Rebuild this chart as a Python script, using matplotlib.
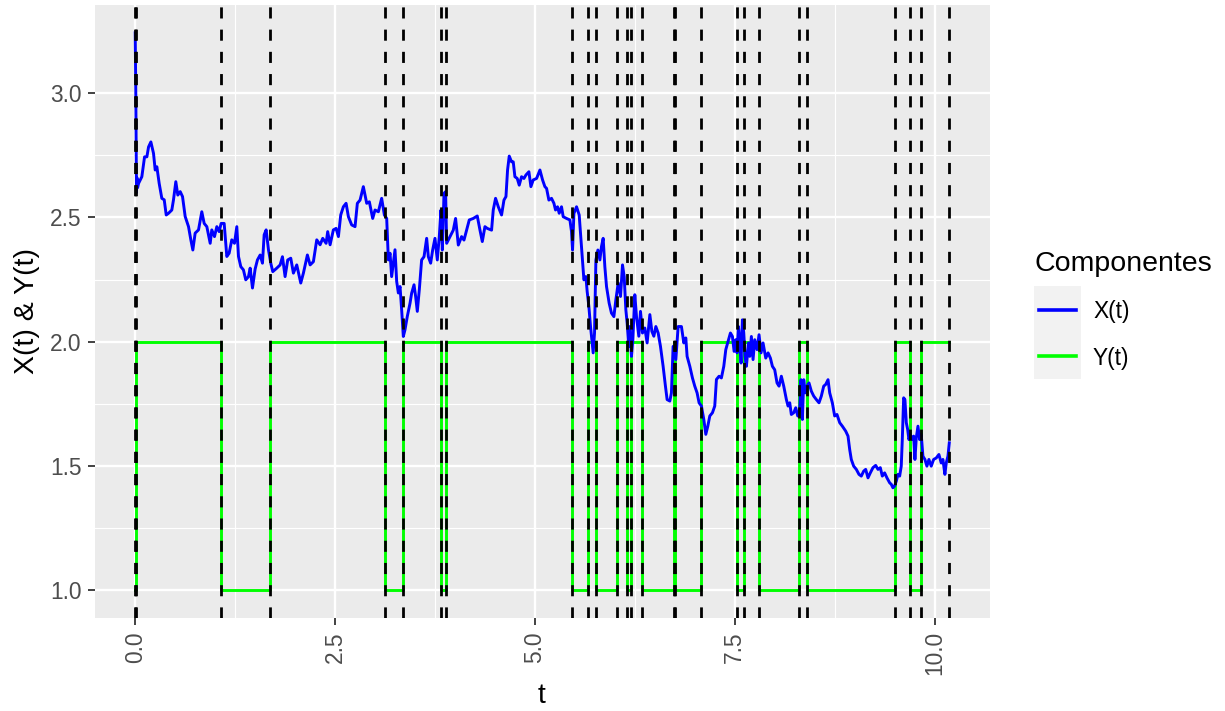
import numpy as np
import matplotlib.pyplot as plt
from matplotlib.lines import Line2D
from matplotlib.patches import Rectangle

plt.rcParams['font.family'] = ['Liberation Sans', 'DejaVu Sans']

# Switching times of the Markov chain Y(t) and the state it enters at each time
jump_times = [0.0, 0.01, 1.071, 1.688, 3.129, 3.354, 3.828, 3.888, 5.459, 5.659,
              5.759, 6.021, 6.146, 6.2, 6.346, 6.734, 6.755, 7.079, 7.529, 7.613,
              7.8, 8.3, 8.404, 9.504, 9.691, 9.829, 10.184]
y_states = [1, 2, 1, 2, 1, 2, 1, 2, 1, 2,
            1, 2, 1, 2, 1, 2, 1, 2, 1, 2,
            1, 2, 1, 2, 1, 2, 2]

# Sample path of X(t)
x_time = [0.0, 0.004, 0.008, 0.012, 0.016, 0.022, 0.03, 0.042, 0.083, 0.117,
          0.146, 0.167, 0.196, 0.229, 0.25, 0.271, 0.3, 0.333, 0.363, 0.388,
          0.417, 0.458, 0.479, 0.508, 0.533, 0.563, 0.592, 0.625, 0.667, 0.696,
          0.721, 0.75, 0.792, 0.833, 0.863, 0.896, 0.938, 0.958, 0.992, 1.021,
          1.05, 1.075, 1.113, 1.146, 1.175, 1.208, 1.242, 1.271, 1.292, 1.321,
          1.354, 1.383, 1.417, 1.438, 1.467, 1.5, 1.529, 1.563, 1.592, 1.613,
          1.638, 1.667, 1.696, 1.721, 1.771, 1.813, 1.842, 1.875, 1.908, 1.946,
          1.979, 2.021, 2.071, 2.104, 2.154, 2.188, 2.229, 2.271, 2.313, 2.346,
          2.388, 2.408, 2.438, 2.479, 2.513, 2.542, 2.571, 2.604, 2.638, 2.667,
          2.708, 2.75, 2.779, 2.813, 2.854, 2.896, 2.929, 2.971, 3.0, 3.042,
          3.083, 3.117, 3.146, 3.167, 3.188, 3.208, 3.229, 3.25, 3.271, 3.292,
          3.313, 3.333, 3.354, 3.375, 3.404, 3.438, 3.458, 3.488, 3.508, 3.529,
          3.554, 3.583, 3.613, 3.646, 3.667, 3.696, 3.721, 3.75, 3.779, 3.804,
          3.825, 3.842, 3.863, 3.883, 3.896, 3.938, 3.979, 4.008, 4.042, 4.083,
          4.113, 4.146, 4.179, 4.229, 4.279, 4.313, 4.342, 4.375, 4.404, 4.458,
          4.479, 4.508, 4.542, 4.583, 4.613, 4.638, 4.658, 4.679, 4.708, 4.729,
          4.75, 4.779, 4.804, 4.833, 4.863, 4.888, 4.925, 4.95, 4.979, 5.021,
          5.063, 5.096, 5.125, 5.146, 5.175, 5.208, 5.238, 5.258, 5.283, 5.304,
          5.333, 5.354, 5.396, 5.438, 5.458, 5.471, 5.488, 5.521, 5.554, 5.571,
          5.596, 5.613, 5.638, 5.654, 5.675, 5.696, 5.713, 5.729, 5.746, 5.763,
          5.788, 5.813, 5.833, 5.854, 5.875, 5.896, 5.929, 5.958, 5.988, 6.013,
          6.042, 6.071, 6.096, 6.117, 6.138, 6.154, 6.175, 6.188, 6.208, 6.225,
          6.25, 6.271, 6.3, 6.321, 6.346, 6.375, 6.404, 6.438, 6.463, 6.488,
          6.513, 6.542, 6.571, 6.604, 6.633, 6.654, 6.688, 6.708, 6.729, 6.763,
          6.792, 6.833, 6.863, 6.888, 6.904, 6.938, 6.971, 7.0, 7.029, 7.054,
          7.083, 7.113, 7.138, 7.163, 7.188, 7.221, 7.25, 7.271, 7.304, 7.333,
          7.363, 7.388, 7.417, 7.446, 7.471, 7.492, 7.513, 7.529, 7.546, 7.563,
          7.579, 7.596, 7.613, 7.629, 7.646, 7.671, 7.688, 7.708, 7.729, 7.75,
          7.779, 7.804, 7.829, 7.854, 7.888, 7.917, 7.946, 7.971, 8.0, 8.029,
          8.054, 8.083, 8.113, 8.146, 8.167, 8.188, 8.208, 8.238, 8.263, 8.288,
          8.313, 8.329, 8.346, 8.363, 8.383, 8.404, 8.429, 8.458, 8.488, 8.521,
          8.554, 8.583, 8.613, 8.638, 8.667, 8.688, 8.721, 8.75, 8.779, 8.813,
          8.846, 8.888, 8.917, 8.938, 8.958, 8.988, 9.021, 9.054, 9.083, 9.113,
          9.138, 9.167, 9.196, 9.229, 9.263, 9.292, 9.321, 9.346, 9.375, 9.404,
          9.438, 9.458, 9.479, 9.5, 9.521, 9.542, 9.563, 9.583, 9.596, 9.613,
          9.629, 9.646, 9.663, 9.679, 9.696, 9.721, 9.738, 9.754, 9.771, 9.792,
          9.813, 9.833, 9.854, 9.879, 9.904, 9.929, 9.958, 9.988, 10.021, 10.054,
          10.083, 10.104, 10.129, 10.146, 10.167, 10.184]
x_value = [3.243, 3.12, 2.98, 2.8, 2.6, 2.66, 2.62, 2.637, 2.664, 2.744,
           2.744, 2.784, 2.804, 2.758, 2.691, 2.704, 2.637, 2.577, 2.571, 2.51,
           2.517, 2.53, 2.571, 2.644, 2.59, 2.604, 2.584, 2.504, 2.463, 2.41,
           2.369, 2.437, 2.45, 2.523, 2.476, 2.463, 2.396, 2.45, 2.423, 2.463,
           2.443, 2.476, 2.476, 2.343, 2.356, 2.41, 2.396, 2.463, 2.343, 2.302,
           2.289, 2.249, 2.262, 2.296, 2.216, 2.292, 2.329, 2.349, 2.316, 2.43,
           2.45, 2.37, 2.316, 2.282, 2.296, 2.309, 2.342, 2.262, 2.329, 2.336,
           2.276, 2.309, 2.236, 2.276, 2.349, 2.309, 2.322, 2.41, 2.39, 2.416,
           2.396, 2.443, 2.39, 2.45, 2.456, 2.423, 2.51, 2.543, 2.557, 2.503,
           2.47, 2.463, 2.557, 2.57, 2.624, 2.557, 2.563, 2.496, 2.53, 2.523,
           2.577, 2.51, 2.496, 2.329, 2.356, 2.262, 2.316, 2.37, 2.242, 2.196,
           2.222, 2.129, 2.021, 2.048, 2.102, 2.155, 2.195, 2.229, 2.182, 2.122,
           2.209, 2.329, 2.342, 2.416, 2.342, 2.316, 2.369, 2.416, 2.329, 2.423,
           2.53, 2.369, 2.597, 2.604, 2.396, 2.423, 2.449, 2.496, 2.389, 2.423,
           2.409, 2.449, 2.49, 2.496, 2.506, 2.449, 2.403, 2.463, 2.456, 2.449,
           2.53, 2.577, 2.543, 2.51, 2.57, 2.584, 2.691, 2.747, 2.724, 2.724,
           2.664, 2.657, 2.63, 2.664, 2.657, 2.671, 2.684, 2.624, 2.651, 2.657,
           2.691, 2.651, 2.624, 2.617, 2.57, 2.577, 2.557, 2.53, 2.543, 2.517,
           2.543, 2.503, 2.496, 2.49, 2.443, 2.369, 2.516, 2.543, 2.51, 2.436,
           2.329, 2.249, 2.262, 2.202, 2.142, 2.061, 2.008, 1.955, 2.035, 2.329,
           2.369, 2.329, 2.383, 2.416, 2.302, 2.222, 2.155, 2.115, 2.101, 2.169,
           2.236, 2.182, 2.309, 2.262, 2.128, 2.075, 1.981, 2.061, 1.941, 2.008,
           2.189, 2.101, 2.022, 2.122, 2.035, 2.055, 1.995, 2.109, 2.042, 2.022,
           2.061, 2.035, 1.981, 1.901, 1.821, 1.767, 1.761, 1.794, 1.981, 1.928,
           2.061, 2.061, 1.995, 2.015, 1.941, 1.901, 1.854, 1.821, 1.794, 1.754,
           1.741, 1.687, 1.627, 1.66, 1.701, 1.714, 1.741, 1.848, 1.861, 1.854,
           1.901, 1.968, 2.001, 2.035, 2.021, 1.961, 2.008, 1.955, 2.061, 2.008,
           1.914, 2.088, 2.035, 1.941, 1.901, 1.995, 1.941, 2.021, 1.928, 2.008,
           1.968, 2.028, 1.955, 1.995, 1.934, 1.955, 1.934, 1.901, 1.887, 1.834,
           1.821, 1.861, 1.821, 1.767, 1.741, 1.754, 1.707, 1.714, 1.734, 1.701,
           1.727, 1.847, 1.687, 1.847, 1.794, 1.821, 1.834, 1.801, 1.781, 1.767,
           1.754, 1.781, 1.821, 1.828, 1.847, 1.794, 1.754, 1.701, 1.707, 1.674,
           1.66, 1.64, 1.62, 1.566, 1.526, 1.499, 1.486, 1.466, 1.459, 1.479,
           1.486, 1.452, 1.472, 1.493, 1.502, 1.486, 1.493, 1.459, 1.472, 1.452,
           1.432, 1.426, 1.412, 1.419, 1.439, 1.466, 1.459, 1.499, 1.606, 1.774,
           1.767, 1.674, 1.647, 1.606, 1.626, 1.606, 1.62, 1.526, 1.613, 1.66,
           1.606, 1.626, 1.539, 1.526, 1.499, 1.526, 1.499, 1.526, 1.532, 1.546,
           1.512, 1.526, 1.466, 1.512, 1.539, 1.593]

W, H = 1225, 711
fig = plt.figure(figsize=(W / 100, H / 100), dpi=100)


def fx(px):
    return px / W


def fy(py):
    return 1 - py / H


# panel placed in pixel units
ax = fig.add_axes([fx(94.5), fy(618), fx(990) - fx(94.5), fy(5) - fy(618)])
ax.set_facecolor('#EBEBEB')
for s in ax.spines.values():
    s.set_visible(False)

# ggplot-like 5% expansion of the data range
x_lo, x_hi = min(x_time + jump_times), max(x_time + jump_times)
y_lo, y_hi = min(x_value + y_states), max(x_value + y_states)
ax.set_xlim(x_lo - 0.05 * (x_hi - x_lo), x_hi + 0.05 * (x_hi - x_lo))
ax.set_ylim(y_lo - 0.05 * (y_hi - y_lo), y_hi + 0.05 * (y_hi - y_lo))

xticks = [0.0, 2.5, 5.0, 7.5, 10.0]
yticks = [1.0, 1.5, 2.0, 2.5, 3.0]
ax.set_xticks(xticks)
ax.set_xticklabels([f'{v:.1f}' for v in xticks], rotation=90)
ax.set_yticks(yticks)
ax.set_yticklabels([f'{v:.1f}' for v in yticks])
ax.set_xticks(np.arange(1.25, 10.5, 2.5), minor=True)
ax.set_yticks(np.arange(1.25, 3.1, 0.5), minor=True)
ax.grid(True, which='major', color='white', linewidth=1.7)
ax.grid(True, which='minor', color='white', linewidth=0.85)
ax.set_axisbelow(True)
ax.tick_params(which='major', length=5.3, width=1.3, color='#333333',
               labelsize=16.4, labelcolor='#4D4D4D', pad=4.2)
ax.tick_params(which='minor', length=0)

# the two components
ax.step(jump_times, y_states, where='post', color='#00FF00', linewidth=2.1, zorder=3)
ax.plot(x_time, x_value, color='#0000FF', linewidth=2.1, zorder=4)

# dashed vertical line at every switching time
for tj in jump_times:
    ax.axvline(tj, color='black', linewidth=2.0, linestyle=(0, (4, 4)), zorder=5)

# axis titles
fig.text(fx(542), fy(696), 't', fontsize=20.5, ha='center', va='center')
fig.text(fx(27), fy(311.5), 'X(t) & Y(t)', fontsize=20.5, ha='center', va='center',
         rotation=90)

# legend drawn by hand to get the grey key boxes
fig.text(fx(1035), fy(271), 'Componentes', fontsize=20.5, va='baseline', ha='left')
fig.patches.append(Rectangle((fx(1034), fy(379)), fx(1081) - fx(1034), fy(286) - fy(379),
                             transform=fig.transFigure, facecolor='#F2F2F2', edgecolor='none'))
for yy, col, lab in [(309.5, '#0000FF', 'X(t)'), (356, '#00FF00', 'Y(t)')]:
    fig.lines.append(Line2D([fx(1039), fx(1076)], [fy(yy), fy(yy)], color=col,
                            linewidth=2.6, transform=fig.transFigure))
    fig.text(fx(1093), fy(yy + 2), lab, fontsize=16.4, va='center', ha='left')

fig.savefig('out.png', dpi=100)
